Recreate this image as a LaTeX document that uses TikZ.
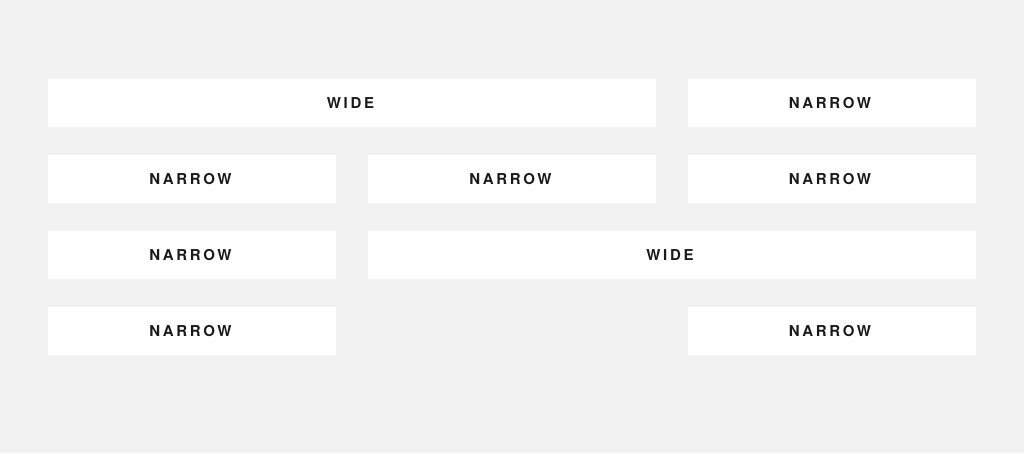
\documentclass[tikz,border=0pt]{standalone}
\usepackage{fontspec}
\setmainfont{TeX Gyre Heros}[LetterSpace=18]
\definecolor{pagegray}{HTML}{F2F2F2}
\definecolor{labelink}{HTML}{1A1A1A}
\begin{document}
\begin{tikzpicture}[
    x=1pt, y=-1pt,
    every node/.style = {shape=rectangle, fill=white,
    inner sep=0pt, minimum height=48pt,
    font=\fontsize{15}{17}\selectfont\bfseries, text=labelink,
    execute at begin node={\hspace{-3pt}}},
    narrow/.style={minimum width=288pt},
    wide/.style={minimum width=608pt},
    ]
  \fill[pagegray] (0,0) rectangle (1024,453);
  \useasboundingbox (0,0) rectangle (1024,453);

  \node[wide]   (wideA)   at (352,103)   {WIDE};
  \node[narrow] (narrowA) at (831.5,103) {NARROW};

  \node[narrow] (narrowB) at (192,179)   {NARROW};
  \node[narrow] (narrowC) at (512,179)   {NARROW};
  \node[narrow] (narrowD) at (831.5,179) {NARROW};

  \node[narrow] (narrowE) at (192,255)   {NARROW};
  \node[wide]   (wideB)   at (671.5,255) {WIDE};

  \node[narrow] (narrowF) at (192,331)   {NARROW};
  \node[narrow] (narrowG) at (831.5,331) {NARROW};
\end{tikzpicture}
\end{document}
